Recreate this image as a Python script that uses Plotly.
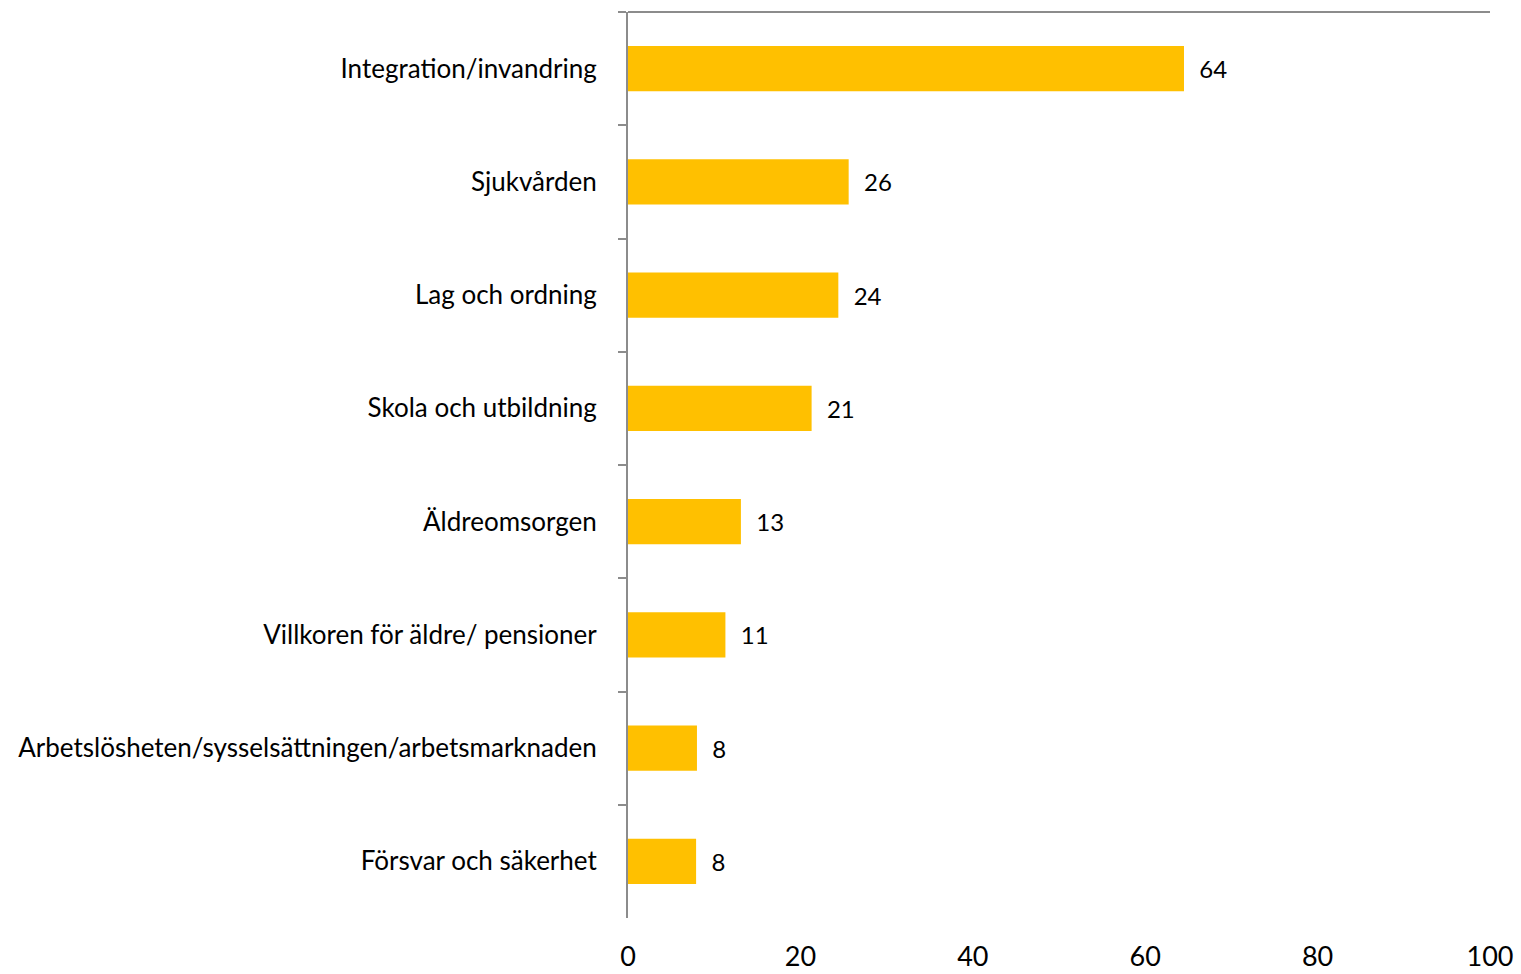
import plotly.graph_objects as go

categories = [
    "Integration/invandring",
    "Sjukvården",
    "Lag och ordning",
    "Skola och utbildning",
    "Äldreomsorgen",
    "Villkoren för äldre/ pensioner",
    "Arbetslösheten/sysselsättningen/arbetsmarknaden",
    "Försvar och säkerhet",
]
values = [64.5, 25.6, 24.4, 21.3, 13.1, 11.3, 8.0, 7.9]
value_labels = ["64", "26", "24", "21", "13", "11", "8", "8"]
x_ticks = [0, 20, 40, 60, 80, 100]

FONT = "Lato"

fig = go.Figure(
    go.Bar(
        x=values,
        y=categories,
        orientation="h",
        marker=dict(color="#FFC000", line=dict(width=0)),
        text=["  " + t for t in value_labels],
        textposition="outside",
        textfont=dict(family=FONT, size=24, color="#000000"),
        cliponaxis=False,
        hoverinfo="skip",
    )
)

fig.update_layout(
    width=1521,
    height=974,
    paper_bgcolor="white",
    plot_bgcolor="white",
    margin=dict(l=628, r=31, t=12, b=56, autoexpand=False),
    bargap=0.6,
    showlegend=False,
    font=dict(family=FONT, color="#000000"),
    xaxis=dict(
        range=[0, 100],
        tickvals=x_ticks,
        ticktext=[str(v) for v in x_ticks],
        showgrid=False,
        zeroline=False,
        showline=False,
        ticks="",
        automargin=False,
        ticklabelstandoff=20,
        tickfont=dict(family=FONT, size=27, color="#000000"),
    ),
    yaxis=dict(
        autorange="reversed",
        showgrid=False,
        zeroline=False,
        showline=True,
        linecolor="#8C8C8C",
        linewidth=2,
        ticks="outside",
        tickson="boundaries",
        ticklen=8,
        tickwidth=2,
        tickcolor="#8C8C8C",
        automargin=False,
        ticklabelstandoff=24,
        tickfont=dict(family=FONT, size=26, color="#000000"),
    ),
    shapes=[
        dict(
            type="line",
            xref="paper",
            yref="paper",
            x0=0,
            x1=1,
            y0=1,
            y1=1,
            line=dict(color="#8C8C8C", width=2),
        )
    ],
)

fig.write_html(
    "out.html",
    config={"displayModeBar": False},
    post_script="document.body.style.margin='0px';document.body.style.overflow='hidden';",
)
